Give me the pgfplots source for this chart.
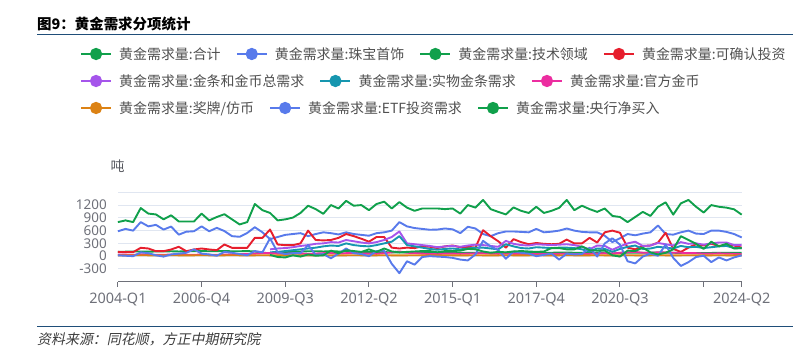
\documentclass[border=0pt]{standalone}
\usepackage{pgfplots}
\usepackage{pgfplotstable}
\pgfplotsset{compat=1.18}
\usepackage{fontspec}
\setmainfont{Noto Sans}
\newfontfamily\cjk{Noto Sans CJK SC}
\newfontfamily\cjkit[FakeSlant=0.2]{Noto Sans CJK SC}
\definecolor{cgreen}{RGB}{16,160,75}
\definecolor{cblue}{RGB}{88,122,235}
\definecolor{cred}{RGB}{230,30,45}
\definecolor{cpurple}{RGB}{165,85,235}
\definecolor{cteal}{RGB}{22,150,175}
\definecolor{cpink}{RGB}{236,45,160}
\definecolor{corange}{RGB}{220,130,20}
\definecolor{axisgrey}{RGB}{110,112,121}
\definecolor{gridc}{RGB}{224,230,241}
\definecolor{navy}{RGB}{31,78,121}
\definecolor{legtext}{RGB}{80,80,80}

\pgfplotstableread{
i tot jew tech inv bar phys coin medal etf cb
0 800 585 100 100 nan nan 40 20 20 nan
1 840 640 105 94 nan nan 35 18 10 nan
2 800 600 110 94 nan nan 30 20 0 nan
3 1130 800 110 196 nan nan 45 22 90 nan
4 1000 700 105 180 nan nan 35 20 70 nan
5 980 735 110 117 nan nan 30 18 20 nan
6 865 625 110 117 nan nan 30 20 -10 nan
7 960 695 115 157 nan nan 40 22 40 nan
8 815 505 110 220 nan nan 35 20 60 nan
9 815 575 115 117 nan nan 30 18 80 nan
10 815 585 120 157 nan nan 30 20 160 nan
11 1000 700 120 180 nan nan 40 22 60 nan
12 840 585 115 157 nan nan 35 20 40 nan
13 920 665 120 141 nan nan 30 18 10 nan
14 985 590 120 274 nan nan 35 20 100 nan
15 865 470 115 196 nan nan 45 22 80 nan
16 745 455 115 196 nan nan 50 20 50 nan
17 800 545 120 196 nan nan 50 18 20 nan
18 1225 680 110 430 nan nan 60 20 120 nan
19 1080 560 80 430 nan nan 70 22 90 nan
20 1015 400 70 626 160 90 70 20 420 30
21 840 450 80 274 180 100 60 18 90 -20
22 865 500 90 258 190 120 55 20 50 -30
23 905 520 100 258 210 140 65 22 70 20
24 1015 540 110 300 240 160 60 20 70 -10
25 1185 470 115 600 260 180 55 18 260 40
26 1105 520 115 380 290 200 60 20 30 10
27 995 560 110 370 300 230 70 22 50 20
28 1200 540 115 380 330 250 75 20 -50 130
29 1120 510 110 430 320 240 60 18 60 70
30 1300 560 110 520 380 300 70 20 180 140
31 1185 520 100 470 350 260 80 22 70 120
32 1200 500 95 410 320 240 65 20 50 100
33 1080 480 95 340 300 230 60 18 0 160
34 1225 540 95 450 330 260 55 20 120 100
35 1280 560 95 450 380 300 70 22 130 180
36 1120 600 90 200 450 340 90 20 -180 110
37 1270 800 90 180 580 470 110 18 -400 90
38 1140 700 90 200 300 260 80 20 -120 100
39 1065 660 90 190 280 230 75 22 -200 110
40 1120 640 85 230 260 200 60 20 -20 120
41 1120 620 85 220 240 170 50 18 0 120
42 1120 625 85 190 210 150 50 20 -10 90
43 1105 650 85 230 230 170 60 22 -20 120
44 1120 630 80 250 240 180 60 20 -40 120
45 1000 540 80 210 220 160 55 18 -80 130
46 1200 690 80 220 250 180 60 20 -100 170
47 1140 650 80 200 270 200 65 22 40 160
48 1320 520 75 610 260 200 70 20 360 110
49 1105 470 80 470 240 180 60 18 230 80
50 1040 540 80 350 220 160 55 20 140 100
51 980 580 80 200 360 280 60 22 -60 90
52 1145 580 80 400 290 230 55 20 110 110
53 1065 570 80 330 260 190 50 18 80 120
54 1015 560 85 280 250 180 50 20 60 110
55 1160 640 85 310 280 210 55 22 0 100
56 1015 560 80 290 270 200 50 20 30 110
57 1065 575 80 280 260 190 55 18 60 190
58 1135 600 85 290 270 200 55 20 -80 190
59 1320 650 85 390 280 200 60 22 60 160
60 1080 600 80 300 260 190 50 20 40 160
61 1185 570 80 300 220 160 50 18 50 230
62 1105 560 80 430 160 110 55 20 200 140
63 1040 560 80 320 250 180 60 22 -10 130
64 1120 480 70 560 240 170 70 20 300 130
65 945 330 60 600 150 100 60 18 420 20
66 920 420 75 550 230 170 80 20 270 -10
67 800 520 80 200 300 220 90 22 -120 130
68 920 490 80 160 340 250 100 20 -170 120
69 1040 530 80 240 240 170 80 18 -10 200
70 945 560 80 250 250 180 80 20 60 90
71 1160 720 85 320 310 220 90 22 10 40
72 1265 520 80 550 280 200 90 20 270 80
73 975 505 80 170 250 180 80 18 -40 160
74 1240 560 75 100 330 240 80 20 -230 470
75 1320 600 75 200 290 210 70 22 -140 380
76 1160 530 70 280 300 220 70 20 -20 290
77 1025 520 70 250 270 190 60 18 10 170
78 1200 600 75 290 300 210 60 20 -140 340
79 1160 600 80 240 320 230 65 22 -30 230
80 1140 570 80 260 320 240 60 20 -100 290
81 1100 520 80 250 260 190 55 18 -30 180
82 975 440 80 200 260 190 50 20 20 190
}\gold

\pgfplotsset{
  ser/.style={line width=1.9bp, line join=round, no markers},
  lg/.style={line width=2.2bp, mark=*, mark size=5bp, mark options={solid}},
  legrow/.style={
    at={(117.9bp,-281.7bp)}, anchor=south west, scale only axis,
    width=623.8bp, height=89.4bp, hide axis,
    xmin=0, xmax=1, ymin=0, ymax=1,
    legend columns=-1, legend cell align=left,
    legend image code/.code={\draw[mark repeat=2,mark phase=2,##1] plot coordinates {(0bp,0bp) (15bp,0bp) (30bp,0bp)};},
    legend style={draw=none, fill=none, inner sep=0pt, outer sep=0pt,
      at={(-0.0608,#1)}, anchor=west,
      font=\cjk\fontsize{14}{14}\selectfont, text=legtext,
      nodes={inner sep=0pt},
      /tikz/every odd column/.append style={column sep=7bp},
      /tikz/every even column/.append style={column sep=15bp}},
  },
}

\begin{document}
\begin{tikzpicture}
\path[use as bounding box] (0,0) rectangle (801bp,-351bp);
\node[anchor=west, inner sep=0pt] at (37bp,-24bp) {\cjk\bfseries\fontsize{14.5}{14.5}\selectfont 图9：黄金需求分项统计};
\draw[navy, line width=1.5bp] (37bp,-34.5bp) -- (793bp,-34.5bp);
\draw[navy, line width=1.2bp] (37bp,-326.5bp) -- (793bp,-326.5bp);
\node[anchor=west, inner sep=0pt, text={rgb,255:red,60;green,60;blue,60}] at (37bp,-339bp) {\cjkit\fontsize{14}{14}\selectfont 资料来源：同花顺，方正中期研究院};
\node[inner sep=0pt, text=axisgrey!80!black] at (117.5bp,-166.5bp) {\cjk\fontsize{14}{14}\selectfont 吨};

\begin{axis}[
  at={(117.9bp,-281.7bp)}, anchor=south west, scale only axis,
  width=623.8bp, height=89.4bp,
  xmin=0, xmax=82, ymin=-600, ymax=1500,
  axis x line*=bottom, axis y line*=left,
  y axis line style={draw=none},
  x axis line style={color=axisgrey, line width=1bp},
  xtick={0,11,22,33,44,55,66,77,82},
  xticklabels={2004-Q1,2006-Q4,2009-Q3,2012-Q2,2015-Q1,2017-Q4,2020-Q3,,2024-Q2},
  xtick align=outside, major tick length=5bp,
  xtick style={color=axisgrey, line width=1bp},
  ytick={-300,0,300,600,900,1200,1500},
  yticklabels={-300,0,300,600,900,1200,},
  ytick style={draw=none},
  ymajorgrids, grid style={color=gridc, line width=0.9bp},
  xticklabel style={font=\fontsize{14.5}{14.5}\selectfont, text=axisgrey, anchor=north, inner sep=0pt, yshift=-6bp},
  yticklabel style={font=\fontsize{13.5}{13.5}\selectfont, text=axisgrey, anchor=east, inner sep=0pt, xshift=-11bp},
  /pgf/number format/assume math mode=true,
  clip=false,
]
\addplot[ser, cgreen] table[x=i, y=tot] {\gold};
\addplot[ser, cblue] table[x=i, y=jew] {\gold};
\addplot[ser, cgreen] table[x=i, y=tech] {\gold};
\addplot[ser, cred] table[x=i, y=inv] {\gold};
\addplot[ser, cpurple] table[x=i, y=bar] {\gold};
\addplot[ser, cteal] table[x=i, y=phys] {\gold};
\addplot[ser, cpink] table[x=i, y=coin] {\gold};
\addplot[ser, corange] table[x=i, y=medal] {\gold};
\addplot[ser, cblue] table[x=i, y=etf] {\gold};
\addplot[ser, cgreen] table[x=i, y=cb] {\gold};
\end{axis}

\begin{axis}[legrow=2.547]
\addlegendimage{lg, cgreen}\addlegendentry{黄金需求量:合计}
\addlegendimage{lg, cblue}\addlegendentry{黄金需求量:珠宝首饰}
\addlegendimage{lg, cgreen}\addlegendentry{黄金需求量:技术领域}
\addlegendimage{lg, cred}\addlegendentry{黄金需求量:可确认投资}
\end{axis}
\begin{axis}[legrow=2.245]
\addlegendimage{lg, cpurple}\addlegendentry{黄金需求量:金条和金币总需求}
\addlegendimage{lg, cteal}\addlegendentry{黄金需求量:实物金条需求}
\addlegendimage{lg, cpink}\addlegendentry{黄金需求量:官方金币}
\end{axis}
\begin{axis}[legrow=1.943]
\addlegendimage{lg, corange}\addlegendentry{黄金需求量:奖牌/仿币}
\addlegendimage{lg, cblue}\addlegendentry{黄金需求量:ETF投资需求}
\addlegendimage{lg, cgreen}\addlegendentry{黄金需求量:央行净买入}
\end{axis}
\end{tikzpicture}
\end{document}
